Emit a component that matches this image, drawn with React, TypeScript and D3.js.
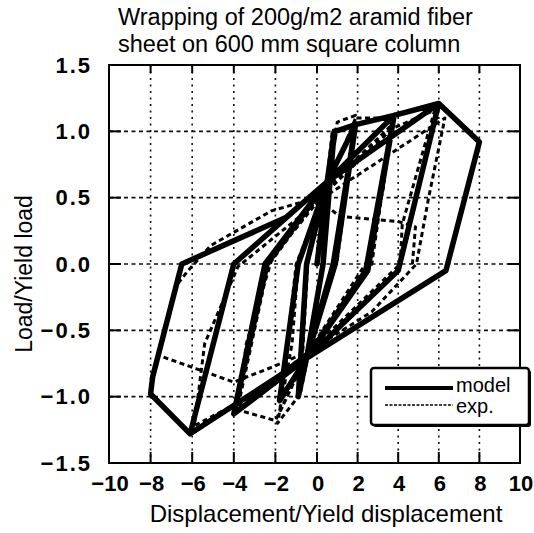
import React from "react"
import * as d3 from "d3"

const W = 534
const H = 533

// model (solid) path, displacement / yield displacement vs load / yield load
const modelDisp = [
    0, 0.5, 0.85, 0.3, -0.5, -0.9, -0.5, 0.5, 0.9, 1.9, 0.9, -0.5, -1.8, -0.9,
    0.5, 1.9, 0.8, -0.5, -1.8, -0.9, 0.5, 1.9, 3.8, 2.4, -0.5, -4.0, -2.4, 0.5,
    3.8, 2.5, -0.5, -4.0, -2.5, 0.5, 3.8, 6.0, 4.0, -0.5, -6.1, -4.0, 0.5, 6.0,
    8.0, 6.35, -0.5, -6.1, -8.0, -7.9, -6.5, -1.5, 0.5,
]
const modelLoad = [
    0, 0.62, 1.0, 0.0, -0.71, -1.0, 0.0, 0.62, 1.0, 1.05, 0.0, -0.71, -1.03,
    0.0, 0.62, 1.05, 0.0, -0.71, -1.03, 0.0, 0.62, 1.05, 1.12, -0.05, -0.71,
    -1.13, 0.0, 0.62, 1.12, -0.05, -0.71, -1.13, 0.0, 0.62, 1.12, 1.21, -0.05,
    -0.71, -1.28, 0.0, 0.62, 1.21, 0.92, -0.05, -0.71, -1.28, -0.98, -0.85, 0.0,
    0.35, 0.62,
]

// experiment (dashed) path
const expDisp = [
    0, 0.4, 0.75, 0.35, -0.4, -0.8, -0.45, 0.3, 1.0, 1.9, 1.4, 0.9, -0.4, -1.0,
    -1.9, -1.2, -0.9, 0.3, 1.9, 1.0, -0.4, -1.8, -1.0, 0.3, 1.9, 3.6, 3.3, 2.6,
    -0.4, -2.0, -3.8, -3.4, -2.2, 0.3, 3.7, 2.7, -0.4, -3.8, -2.3, 0.3, 3.7,
    5.8, 4.2, 4.1, -0.3, -3.0, -5.9, -5.4, -3.8, 0.3, 6.3, 5.5, 4.9, 2.7, -0.4,
    -2.2, -4.0, -5.8, -7.6, -6.8, -6.2, -5.1, -2.2, 0.0, 1.1, 4.0, 4.85, 4.7,
]
const expLoad = [
    0, 0.5, 1.0, 0.02, -0.66, -0.98, 0.0, 0.5, 1.07, 1.12, 0.6, 0.05, -0.66,
    -1.02, -1.2, -0.6, 0.0, 0.5, 1.1, 0.03, -0.66, -1.12, 0.0, 0.5, 1.1, 1.1,
    0.6, 0.05, -0.66, -1.18, -1.1, -0.6, 0.02, 0.55, 1.05, 0.0, -0.66, -1.08,
    0.02, 0.52, 1.02, 1.16, 0.3, 0.0, -0.65, -0.98, -1.22, -0.6, -0.02, 0.5, 1.1,
    0.5, 0.0, -0.36, -0.66, -0.78, -0.89, -0.79, -0.69, -0.17, -0.05, 0.14, 0.4,
    0.5, 0.36, 0.32, 0.28, 0.0,
]

const xTicks = [-10, -8, -6, -4, -2, 0, 2, 4, 6, 8, 10]
const xTickLabels = ["−10", "−8", "−6", "−4", "−2", "0", "2", "4", "6", "8", "10"]
const yTicks = [1.5, 1.0, 0.5, 0.0, -0.5, -1.0, -1.5]
const yTickLabels = ["1.5", "1.0", "0.5", "0.0", "−0.5", "−1.0", "−1.5"]

const titleLines = [
    "Wrapping of 200g/m2 aramid fiber",
    "sheet on 600 mm square column",
]
const legendItems = ["model", "exp."]

const FONT = "Liberation Sans, Arial, sans-serif"
const TICK_FONT = "Liberation Sans Narrow, Liberation Sans, Arial, sans-serif"

export default function App() {
    const x = d3.scaleLinear().domain([-10, 0, 10]).range([109, 317, 520])
    const y = d3.scaleLinear().domain([-1.5, 1.5]).range([463, 65])
    const [x0, x1] = [x(-10), x(10)]
    const [y0, y1] = [y(1.5), y(-1.5)]

    const modelPath = d3
        .line<number>()
        .x((d) => x(modelDisp[d]))
        .y((d) => y(modelLoad[d]))(d3.range(modelDisp.length))
    const expPath = d3
        .line<number>()
        .x((d) => x(expDisp[d]))
        .y((d) => y(expLoad[d]))(d3.range(expDisp.length))

    const lx = 371
    const ly = 368
    const lw = 158
    const lh = 57

    return (
        <svg
            width={W}
            height={H}
            style={{ position: "absolute", left: 0, top: 0, background: "#fff" }}
        >
            <defs>
                <clipPath id="plot">
                    <rect x={x0} y={y0} width={x1 - x0} height={y1 - y0} />
                </clipPath>
            </defs>
            {/* title */}
            {titleLines.map((t, i) => (
                <text key={i} x={118} y={25 + i * 27} fontFamily={FONT} fontSize={23.5}>
                    {t}
                </text>
            ))}

            {/* grid */}
            {xTicks.slice(1, -1).map((v) => (
                <line
                    key={"gx" + v}
                    x1={x(v)}
                    x2={x(v)}
                    y1={y0}
                    y2={y1}
                    stroke="#111"
                    strokeWidth={1.6}
                    strokeDasharray="2,4.5"
                />
            ))}
            {yTicks.slice(1, -1).map((v) => (
                <line
                    key={"gy" + v}
                    x1={x0}
                    x2={x1}
                    y1={y(v)}
                    y2={y(v)}
                    stroke="#111"
                    strokeWidth={1.6}
                    strokeDasharray="4,3.5"
                />
            ))}

            {/* inward ticks */}
            {xTicks.slice(1, -1).map((v) => (
                <g key={"tx" + v} stroke="#000" strokeWidth={2}>
                    <line x1={x(v)} x2={x(v)} y1={y1} y2={y1 - 11} />
                    <line x1={x(v)} x2={x(v)} y1={y0} y2={y0 + 8} />
                </g>
            ))}
            {yTicks.slice(1, -1).map((v) => (
                <g key={"ty" + v} stroke="#000" strokeWidth={2}>
                    <line x1={x0} x2={x0 + 12} y1={y(v)} y2={y(v)} />
                    <line x1={x1} x2={x1 - 12} y1={y(v)} y2={y(v)} />
                </g>
            ))}

            {/* data */}
            <g clipPath="url(#plot)">
                <path
                    d={expPath ?? ""}
                    fill="none"
                    stroke="#000"
                    strokeWidth={3}
                    strokeDasharray="5,3.5"
                    strokeLinejoin="round"
                />
                <path
                    d={modelPath ?? ""}
                    fill="none"
                    stroke="#000"
                    strokeWidth={5.5}
                    strokeLinejoin="round"
                    strokeLinecap="round"
                />
            </g>

            {/* frame */}
            <rect
                x={x0}
                y={y0}
                width={x1 - x0}
                height={y1 - y0}
                fill="none"
                stroke="#000"
                strokeWidth={2}
            />

            {/* tick labels */}
            {yTicks.map((v, i) => (
                <text
                    key={"ly" + v}
                    x={92}
                    y={y(v) + 7.5}
                    textAnchor="end"
                    fontFamily={TICK_FONT}
                    fontWeight="bold"
                    fontSize={22}
                    letterSpacing={2}
                >
                    {yTickLabels[i]}
                </text>
            ))}
            {xTicks.map((v, i) => (
                <text
                    key={"lx" + v}
                    x={x(v) + 1}
                    y={491}
                    textAnchor="middle"
                    fontFamily={TICK_FONT}
                    fontWeight="bold"
                    fontSize={22}
                >
                    {xTickLabels[i]}
                </text>
            ))}

            {/* axis titles */}
            <text
                x={326}
                y={522}
                textAnchor="middle"
                fontFamily={FONT}
                fontSize={24}
            >
                Displacement/Yield displacement
            </text>
            <text
                transform={`translate(32,274) rotate(-90)`}
                textAnchor="middle"
                fontFamily={FONT}
                fontSize={23}
            >
                Load/Yield load
            </text>

            {/* legend */}
            <rect x={lx + 2} y={ly + 2} width={lw} height={lh} rx={3} fill="#000" />
            <rect
                x={lx}
                y={ly}
                width={lw}
                height={lh}
                rx={3}
                fill="#fff"
                stroke="#000"
                strokeWidth={2.5}
            />
            {legendItems.map((t, i) => (
                <g key={t}>
                    <line
                        x1={lx + 14}
                        x2={lx + 82}
                        y1={ly + 20 + i * 17}
                        y2={ly + 20 + i * 17}
                        stroke="#000"
                        strokeWidth={i === 0 ? 4 : 1.5}
                        strokeDasharray={i === 0 ? undefined : "3,1.5"}
                    />
                    <text
                        x={lx + 85}
                        y={ly + 24 + i * 21}
                        fontFamily={FONT}
                        fontSize={20}
                    >
                        {t}
                    </text>
                </g>
            ))}
        </svg>
    )
}
